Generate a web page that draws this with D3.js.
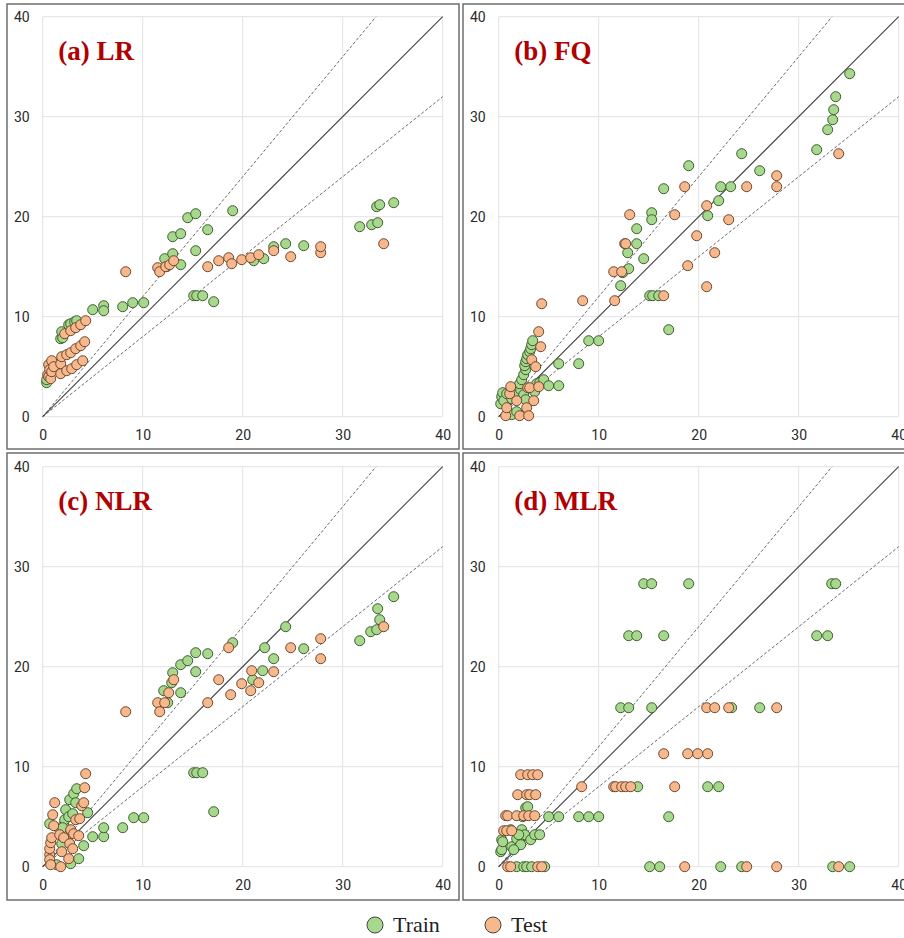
<!DOCTYPE html>
<html>
<head>
<meta charset="utf-8">
<script src="https://cdnjs.cloudflare.com/ajax/libs/d3/7.8.5/d3.min.js"></script>
<style>
  body { margin: 0; background: #fff; }
</style>
</head>
<body>
<div id="chart"></div>
<script>
// observed (x) vs predicted (y), one pair list per model and set
var ticks = [0, 10, 20, 30, 40];
var panelTitles = ["(a) LR", "(b) FQ", "(c) NLR", "(d) MLR"];
var legendNames = ["Train", "Test"];

var lrTrain = [
  [0.4,3.4],[0.4,3.7],[1.8,7.8],[1.9,8.5],[2.0,7.9],[2.6,9.2],[2.8,9.3],[3.2,9.5],[3.4,9.6],
  [5.0,10.7],[6.1,11.1],[6.1,10.6],[8.0,11.0],[9.0,11.4],[10.1,11.4],
  [12.2,15.8],[12.4,15.0],[13.0,16.3],[13.8,15.2],[13.0,18.0],[13.8,18.3],[14.5,19.9],[15.3,20.3],
  [16.5,18.7],[19.0,20.6],[15.3,16.6],[15.1,12.1],[15.4,12.1],[16.0,12.1],[17.1,11.5],
  [21.1,15.6],[22.1,15.8],[23.1,17.0],[24.3,17.3],[26.1,17.1],
  [31.7,19.0],[32.9,19.2],[33.5,19.4],[33.4,21.0],[33.7,21.2],[35.1,21.4]
];
var lrTest = [
  [0.5,4.2],[0.6,4.0],[0.6,5.2],[0.7,4.7],[0.8,3.8],[0.9,5.6],[0.9,4.5],[1.1,5.0],[1.8,5.3],
  [1.8,4.3],[2.4,4.6],[2.9,4.8],[3.4,5.2],[4.0,5.6],
  [1.9,6.0],[2.4,6.2],[2.8,6.4],[3.3,6.8],[3.8,7.1],[4.2,7.5],
  [2.2,8.3],[2.8,8.6],[3.3,8.9],[3.8,9.2],[4.3,9.6],
  [8.3,14.5],[11.5,14.9],[11.7,14.5],[12.3,15.0],[12.7,15.2],[13.1,15.6],
  [16.5,15.0],[17.6,15.6],[18.6,15.9],[18.9,15.3],[19.9,15.7],[20.8,15.9],[21.6,16.2],
  [23.1,16.6],[24.8,16.0],[27.8,16.4],[27.8,17.0],[34.1,17.3]
];

var fqTrain = [
  [0.2,1.3],[0.3,2.0],[0.4,2.4],[0.5,1.6],[0.8,2.3],[1.3,1.8],[1.3,0.2],[1.8,0.5],[1.8,2.2],
  [2.2,2.7],[2.5,2.2],[2.7,1.7],[3.6,2.5],
  [2.1,3.3],[2.3,3.7],[2.5,4.2],[2.7,4.7],[2.6,5.1],[2.7,5.5],[2.8,5.8],[2.9,6.2],[3.1,6.5],
  [3.2,6.8],[3.3,7.2],[3.4,7.6],
  [3.8,3.3],[4.1,3.4],[4.5,3.7],[5.0,3.1],[6.0,3.1],[6.0,5.3],[8.0,5.3],[9.0,7.6],[10.0,7.6],
  [12.2,13.1],[12.4,14.4],[13.0,14.8],[12.9,16.4],[13.8,17.3],[13.8,18.8],[14.5,15.8],
  [15.3,20.4],[15.3,19.7],[16.5,22.8],[19.0,25.1],[15.1,12.1],[15.4,12.1],[16.0,12.1],[17.0,8.7],
  [20.9,20.1],[22.0,21.6],[22.2,23.0],[23.2,23.0],[24.3,26.3],[26.1,24.6],
  [31.8,26.7],[32.9,28.7],[33.4,29.7],[33.5,30.7],[33.7,32.0],[35.1,34.3]
];
var fqTest = [
  [0.7,0.1],[0.8,0.9],[1.1,2.3],[1.2,3.0],[1.8,1.6],[2.1,0.1],[2.8,0.9],[3.0,0.1],
  [2.9,2.9],[3.1,2.9],[3.5,1.6],[4.0,3.0],
  [3.3,5.7],[3.7,5.0],[4.0,8.5],[4.2,7.0],[4.3,11.3],
  [8.4,11.6],[11.5,14.5],[11.6,11.6],[12.3,14.5],[12.6,17.3],[12.7,17.3],[13.1,20.2],
  [16.5,12.1],[17.6,20.2],[18.6,23.0],[18.9,15.1],[19.8,18.1],[20.8,21.1],[20.8,13.0],
  [21.6,16.4],[23.0,19.7],[24.8,23.0],[27.8,24.1],[27.8,23.0],[34.0,26.3]
];

var nlrTrain = [
  [0.7,4.3],[1.7,3.7],[1.9,2.3],[2.1,4.2],[2.2,4.7],[2.3,5.7],[2.6,5.0],[2.7,6.7],[3.0,5.3],
  [3.1,7.3],[3.3,6.4],[3.4,7.8],[2.5,3.3],[2.0,3.9],
  [1.4,0.2],[2.8,0.3],[3.6,0.8],[4.1,2.1],[4.5,5.4],
  [5.0,3.0],[6.1,3.0],[6.1,3.9],[8.0,3.9],[9.1,4.9],[10.1,4.9],
  [12.1,17.6],[12.5,16.4],[12.9,18.4],[13.0,19.4],[13.8,17.4],[13.8,20.2],[14.5,20.6],
  [15.3,21.4],[15.3,19.5],[16.5,21.3],[19.0,22.4],[15.1,9.4],[15.4,9.4],[16.0,9.4],[17.1,5.5],
  [21.0,18.7],[22.0,19.6],[22.2,21.9],[23.1,20.8],[24.3,24.0],[26.1,21.8],
  [31.7,22.6],[32.8,23.5],[33.4,23.7],[33.5,25.8],[33.7,24.7],[35.1,27.0]
];
var nlrTest = [
  [0.7,1.2],[0.7,1.8],[0.7,0.7],[0.8,0.2],[0.8,2.4],[0.9,2.9],[1.0,5.2],[1.1,4.1],[1.2,6.4],
  [1.7,3.2],[1.9,1.5],[1.8,0.0],[2.1,2.9],[2.6,0.8],[2.7,2.3],[3.0,1.8],[2.8,3.7],[3.1,3.3],
  [3.6,3.1],[3.3,4.7],[3.7,4.8],[3.9,6.1],[4.1,6.4],[4.2,7.9],[4.3,9.3],
  [8.3,15.5],[11.5,16.4],[11.7,15.5],[12.2,16.4],[12.6,17.4],[13.1,18.7],
  [16.5,16.4],[17.6,18.7],[18.6,21.9],[18.8,17.2],[19.9,18.3],[20.9,19.6],[20.8,17.6],
  [21.6,18.4],[23.1,19.5],[24.8,21.9],[27.8,22.8],[27.8,20.8],[34.1,24.0]
];

var mlrTrain = [
  [0.2,1.5],[0.3,2.7],[0.3,1.7],[0.4,2.5],[1.2,3.7],[1.3,2.0],[1.8,2.8],[2.2,2.2],[2.3,3.7],
  [2.6,3.2],[3.2,2.7],[3.6,3.2],[4.1,3.2],[1.5,1.7],[2.0,3.2],
  [2.4,5.0],[2.7,5.9],[2.9,6.0],
  [1.8,0],[2.5,0],[2.8,0],[3.3,0],[4.6,0],
  [5.0,5.0],[6.0,5.0],[8.0,5.0],[9.0,5.0],[10.0,5.0],
  [12.2,15.9],[13.0,15.9],[13.0,23.1],[13.8,23.1],[13.9,8.0],[14.5,28.3],[15.3,28.3],[15.3,15.9],
  [16.5,23.1],[19.0,28.3],[15.1,0],[16.1,0],[17.0,5.0],
  [20.9,8.0],[22.0,8.0],[22.2,0],[23.3,15.9],[24.3,0],[26.1,15.9],
  [31.8,23.1],[32.9,23.1],[33.4,0],[33.3,28.3],[33.7,28.3],[35.1,0]
];
var mlrTest = [
  [0.9,0],[1.2,0],[3.9,0],[4.3,0],
  [0.5,3.6],[0.8,3.6],[1.3,3.6],
  [0.7,5.1],[0.9,5.1],[1.8,5.1],[2.5,5.1],[3.0,5.1],[3.6,5.1],
  [1.9,7.2],[2.8,7.2],[3.1,7.2],[3.7,7.2],
  [2.2,9.2],[2.9,9.2],[3.4,9.2],[3.9,9.2],
  [8.3,8.0],[11.5,8.0],[11.7,8.0],[12.3,8.0],[12.7,8.0],[13.2,8.0],
  [16.5,11.3],[17.6,8.0],[18.6,0],[18.9,11.3],[19.9,11.3],[20.8,15.9],[20.9,11.3],
  [21.6,15.9],[23.0,15.9],[24.8,0],[27.8,15.9],[27.8,0],[34.0,0]
];

var trainSets = [lrTrain, fqTrain, nlrTrain, mlrTrain];
var testSets = [lrTest, fqTest, nlrTest, mlrTest];

var width = 904;
var height = 938;
var plotSize = 400;
var trainFill = "#a8d88d", trainStroke = "#3a5e2c";
var testFill = "#f7b88c", testStroke = "#6e4630";

var svg = d3.select("#chart").append("svg")
    .attr("width", width)
    .attr("height", height);

// panel frames and plot origins
var frames = [
  {fx: 7, fy: 4, fh: 445, left: 42.7, top: 16.7},
  {fx: 463, fy: 4, fh: 445, left: 498.7, top: 16.7},
  {fx: 7, fy: 453, fh: 447, left: 42.7, top: 466.7},
  {fx: 463, fy: 453, fh: 447, left: 498.7, top: 466.7}
];

var drawPanel = function(i){
    var f = frames[i];
    svg.append("rect")
        .attr("x", f.fx).attr("y", f.fy)
        .attr("width", 452).attr("height", f.fh)
        .attr("fill", "none")
        .attr("stroke", "#6e6e6e")
        .attr("stroke-width", 1.5);

    var x = d3.scaleLinear().domain([0, 40]).range([f.left, f.left + plotSize]);
    var y = d3.scaleLinear().domain([0, 40]).range([f.top + plotSize, f.top]);

    var g = svg.append("g");

    // grid
    g.selectAll(".vgrid").data(ticks).enter().append("line")
        .attr("x1", d => x(d)).attr("x2", d => x(d))
        .attr("y1", y(0)).attr("y2", y(40))
        .attr("stroke", "#e2e2e2").attr("stroke-width", 1);
    g.selectAll(".hgrid").data(ticks).enter().append("line")
        .attr("x1", x(0)).attr("x2", x(40))
        .attr("y1", d => y(d)).attr("y2", d => y(d))
        .attr("stroke", "#e2e2e2").attr("stroke-width", 1);

    var x_axis = d3.axisBottom(x).tickValues(ticks).tickSize(0).tickPadding(13);
    var y_axis = d3.axisLeft(y).tickValues(ticks).tickSize(0).tickPadding(13);

    var xa = g.append("g").attr("transform", "translate(0," + y(0) + ")").call(x_axis);
    var ya = g.append("g").attr("transform", "translate(" + x(0) + ",0)").call(y_axis);
    [xa, ya].forEach(function(a){
        a.select(".domain").remove();
        a.selectAll("text")
            .style("font-family", "Roboto, sans-serif")
            .style("font-size", "14px")
            .attr("fill", "#2a2a2a");
    });

    // 1:1 line and +/-20% lines
    g.append("line")
        .attr("x1", x(0)).attr("y1", y(0)).attr("x2", x(40)).attr("y2", y(40))
        .attr("stroke", "#444").attr("stroke-width", 1.1);
    g.append("line")
        .attr("x1", x(0)).attr("y1", y(0)).attr("x2", x(40 / 1.2)).attr("y2", y(40))
        .attr("stroke", "#444").attr("stroke-width", 0.8).attr("stroke-dasharray", "3,2");
    g.append("line")
        .attr("x1", x(0)).attr("y1", y(0)).attr("x2", x(40)).attr("y2", y(32))
        .attr("stroke", "#444").attr("stroke-width", 0.8).attr("stroke-dasharray", "3,2");

    g.selectAll(".train").data(trainSets[i]).enter().append("circle")
        .attr("cx", d => x(d[0])).attr("cy", d => y(d[1]))
        .attr("r", 5)
        .attr("fill", trainFill).attr("stroke", trainStroke).attr("stroke-width", 1);
    g.selectAll(".test").data(testSets[i]).enter().append("circle")
        .attr("cx", d => x(d[0])).attr("cy", d => y(d[1]))
        .attr("r", 5)
        .attr("fill", testFill).attr("stroke", testStroke).attr("stroke-width", 1);

    g.append("text")
        .attr("x", f.left + 15.5).attr("y", f.top + 43)
        .text(panelTitles[i])
        .style("font-family", "'Liberation Serif', serif")
        .style("font-weight", "bold")
        .style("font-size", "27px")
        .attr("fill", "#b00000");
}

for (let i = 0; i < 4; i++) {
    drawPanel(i);
}

// legend
var legendX = [375, 493];
var legendFill = [trainFill, testFill];
for (let k = 0; k < 2; k++) {
    svg.append("circle").attr("cx", legendX[k]).attr("cy", 925).attr("r", 8)
        .attr("fill", legendFill[k]).attr("stroke", "#444").attr("stroke-width", 1);
    svg.append("text").attr("x", legendX[k] + 18).attr("y", 932)
        .text(legendNames[k])
        .style("font-family", "'Liberation Serif', serif")
        .style("font-size", "22px")
        .attr("fill", "#222");
}
</script>
</body>
</html>
